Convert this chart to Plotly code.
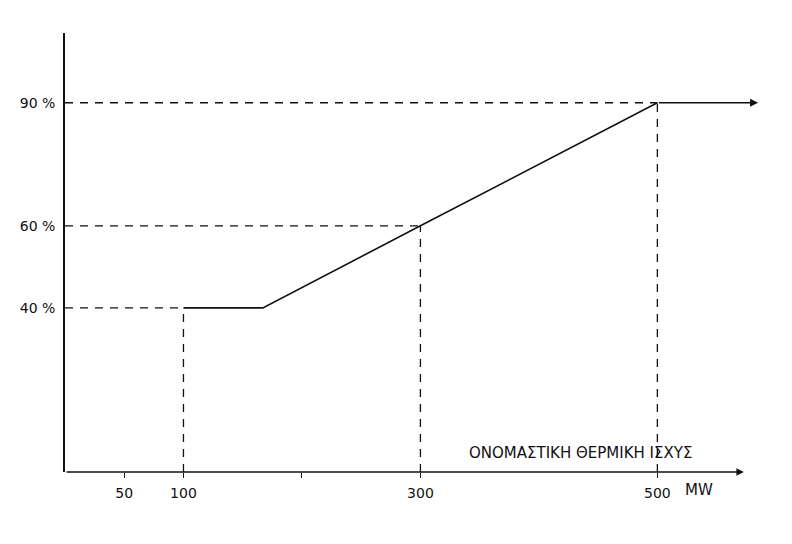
import plotly.graph_objects as go

# Data
curve_mw = [100, 167, 300, 500]
curve_pct = [40, 40, 60, 90]
end_mw = 585          # end of the 90 % plateau (arrow tip)
axis_end_mw = 573     # end of the horizontal axis (arrow tip)
guide_mw = [100, 300, 500]
guide_pct = [40, 60, 90]
x_tickvals = [50, 100, 200, 300, 500]
x_ticktext = ["50", "100", "", "300", "500"]
y_tickvals = [40, 60, 90]
y_ticktext = ["40 %", "60 %", "90 %"]
x_unit = "MW"
x_title = "ΟΝΟΜΑΣΤΙΚΗ ΘΕΡΜΙΚΗ ΙΣΧΥΣ"

INK = "#111111"
fig = go.Figure()

# dashed guide lines
for gx, gy in zip(guide_mw, guide_pct):
    fig.add_trace(go.Scatter(x=[0, gx], y=[gy, gy], mode="lines",
                             line=dict(color=INK, width=1.3, dash="8px,7px"),
                             showlegend=False, hoverinfo="skip"))
    fig.add_trace(go.Scatter(x=[gx, gx], y=[0, gy], mode="lines",
                             line=dict(color=INK, width=1.3, dash="8px,7px"),
                             showlegend=False, hoverinfo="skip"))

# main curve
fig.add_trace(go.Scatter(x=curve_mw, y=curve_pct, mode="lines",
                         line=dict(color=INK, width=1.6),
                         showlegend=False, hoverinfo="skip"))

# plateau with arrow
fig.add_annotation(x=end_mw, y=curve_pct[-1], ax=curve_mw[-1], ay=curve_pct[-1],
                   xref="x", yref="y", axref="x", ayref="y", text="",
                   showarrow=True, arrowhead=2, arrowsize=1, arrowwidth=1.6,
                   arrowcolor=INK, standoff=0, startstandoff=0)
# horizontal axis with arrow
fig.add_annotation(x=axis_end_mw, y=0, ax=0, ay=0,
                   xref="x", yref="y", axref="x", ayref="y", text="",
                   showarrow=True, arrowhead=2, arrowsize=1, arrowwidth=1.5,
                   arrowcolor=INK, standoff=0, startstandoff=0)

fig.add_annotation(x=435, y=4.6, xref="x", yref="y", text=x_title, showarrow=False,
                   font=dict(family="DejaVu Sans", size=15, color=INK))
fig.add_annotation(x=535, y=-0.065, xref="x", yref="paper", text=x_unit, showarrow=False,
                   font=dict(family="DejaVu Sans", size=15, color=INK))

fig.update_layout(
    width=792, height=544,
    margin=dict(l=57, r=36, t=25, b=80),
    paper_bgcolor="white", plot_bgcolor="white",
    font=dict(family="DejaVu Sans", size=14, color=INK),
    xaxis=dict(range=[0, 590], showgrid=False, zeroline=False, showline=False,
               tickvals=x_tickvals, ticktext=x_ticktext,
               ticks="outside", ticklen=5, tickwidth=1.2, tickcolor=INK,
               ticklabelstandoff=3, tickfont=dict(size=14)),
    yaxis=dict(range=[0, 107], showgrid=False, zeroline=False, showline=True,
               linecolor=INK, linewidth=1.6,
               tickvals=y_tickvals, ticktext=y_ticktext, ticks="",
               ticklabelstandoff=5, tickfont=dict(size=14)),
)

fig.write_html("out.html")
